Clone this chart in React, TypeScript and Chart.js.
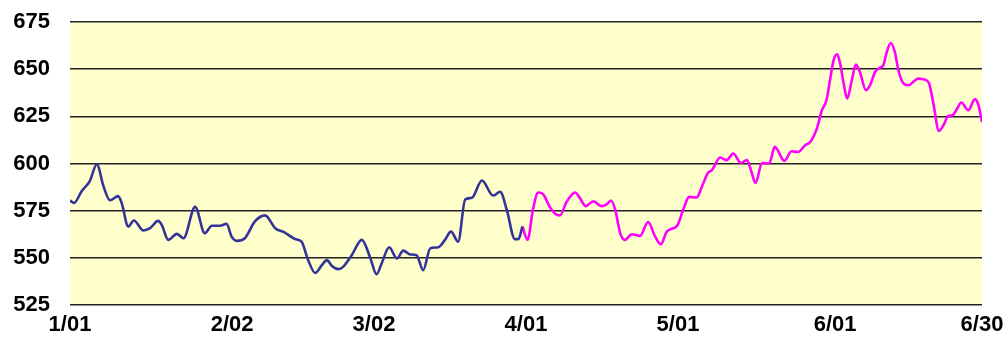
import { useEffect, useRef } from "react";
import { Chart, registerables } from "chart.js";

Chart.register(...registerables);

// Day-of-year offsets (0 = Jan 1) where the axis is labelled
const tickDays = [0, 32, 60, 90, 120, 151, 180];
const tickLabels = ["1/01", "2/02", "3/02", "4/01", "5/01", "6/01", "6/30"];

const yMin = 525;
const yMax = 675;
const yStep = 25;

// First period: Jan 1 – Apr 1
const firstDays = [
  0.0, 0.8, 2.3, 3.9, 5.3, 6.6, 7.9, 9.5, 10.2, 11.5, 12.6, 14.5, 15.8, 17.4, 18.1,
  19.4, 21.1, 22.4, 24.7, 26.6, 28.0, 29.6, 30.9, 31.9, 32.9, 34.5, 36.5, 38.5, 40.5,
  42.4, 44.4, 45.7, 47.0, 48.4, 49.7, 50.7, 51.7, 53.0, 53.9, 55.6, 57.6, 59.2, 60.5,
  61.5, 63.0, 64.5, 65.8, 67.1, 68.4, 69.7, 71.1, 72.7, 74.0, 75.2, 76.6, 78.0, 79.3,
  81.3, 83.5, 84.9, 86.2, 87.8, 88.5, 89.3,
];
const firstValues = [
  580.4, 579.1, 585.3, 590.7, 599.6, 588.0, 580.5, 582.7, 579.0, 566.6, 569.8, 564.5,
  565.7, 569.6, 567.5, 559.5, 562.7, 560.4, 577.0, 563.1, 567.0, 567.0, 568.0, 561.2,
  559.0, 560.4, 569.3, 572.5, 565.7, 563.4, 560.0, 558.6, 548.8, 542.0, 546.1, 548.8,
  545.7, 544.0, 545.2, 551.4, 559.5, 550.5, 541.3, 547.0, 555.6, 549.7, 553.8, 551.8,
  551.4, 543.4, 555.0, 555.6, 559.5, 563.9, 558.6, 580.9, 581.8, 591.0, 583.0, 585.0,
  575.5, 559.9, 559.9, 566.6,
];

// Second period: Apr 1 – Jun 30
const secondDays = [
  89.3, 90.3, 91.4, 92.4, 93.4, 94.7, 95.7, 96.7, 98.0, 99.7, 100.7, 101.8, 103.3,
  104.9, 105.9, 106.8, 107.6, 108.6, 109.5, 110.9, 112.5, 114.1, 115.5, 116.6, 117.8,
  119.9, 121.0, 122.2, 123.7, 124.7, 125.9, 126.7, 128.3, 129.6, 130.9, 132.4, 133.6,
  134.4, 135.3, 136.6, 138.0, 139.1, 141.0, 142.4, 143.7, 145.1, 146.1, 147.4, 148.4,
  149.3, 150.0, 150.7, 151.4, 152.0, 152.7, 153.4, 154.3, 155.1, 155.9, 157.1, 157.9,
  158.9, 159.9, 160.5, 161.3, 162.0, 162.8, 163.5, 164.5, 165.5, 166.4, 167.4, 168.4,
  169.5, 170.4, 171.5, 172.4, 173.3, 174.2, 175.1, 175.9, 177.3, 178.6, 179.3, 180.0,
];
const secondValues = [
  566.6, 559.5, 576.0, 584.6, 583.6, 577.0, 573.5, 572.5, 579.6, 584.6, 581.4, 577.4,
  580.0, 577.4, 578.3, 580.4, 575.5, 563.0, 559.5, 562.5, 561.6, 569.0, 561.2, 557.2,
  563.9, 567.3, 575.3, 582.3, 582.0, 587.6, 595.0, 596.5, 603.2, 601.8, 605.3, 600.3,
  601.8, 596.5, 589.7, 600.3, 600.0, 608.8, 601.4, 606.5, 606.1, 609.7, 611.4, 618.5,
  628.2, 633.5, 644.1, 654.7, 657.9, 653.0, 642.4, 634.4, 644.1, 652.4, 648.5, 638.8,
  641.5, 648.5, 650.8, 652.0, 660.0, 663.9, 659.1, 649.4, 642.4, 641.5, 643.2, 645.0,
  644.6, 642.9, 631.8, 617.3, 620.3, 625.1, 625.6, 629.1, 632.3, 628.2, 634.1, 630.9,
  622.0,
];

const FONT = '"Liberation Sans", Arial, sans-serif';

const plotFill = {
  id: "plotFill",
  beforeDraw(chart: any) {
    const { ctx, chartArea: a } = chart;
    ctx.save();
    ctx.fillStyle = "#FFFFCC";
    ctx.fillRect(a.left, a.top, a.right - a.left, a.bottom - a.top);
    ctx.restore();
  },
};

export default function App() {
  const canvasRef = useRef<HTMLCanvasElement | null>(null);

  useEffect(() => {
    if (!canvasRef.current) return;
    const toPoints = (xs: number[], ys: number[]) => xs.map((x, i) => ({ x, y: ys[i] }));
    const chart = new Chart(canvasRef.current, {
      type: "line",
      data: {
        datasets: [
          {
            data: toPoints(firstDays, firstValues),
            borderColor: "#333399",
            borderWidth: 2.6,
            pointRadius: 0,
            cubicInterpolationMode: "monotone",
            fill: false,
          },
          {
            data: toPoints(secondDays, secondValues),
            borderColor: "#FF00FF",
            borderWidth: 2.6,
            pointRadius: 0,
            cubicInterpolationMode: "monotone",
            fill: false,
          },
        ],
      },
      options: {
        animation: false,
        responsive: true,
        maintainAspectRatio: false,
        layout: { padding: { top: 22, right: 26, bottom: 0, left: 0 } },
        plugins: { legend: { display: false }, tooltip: { enabled: false } },
        scales: {
          x: {
            type: "linear",
            min: 0,
            max: 180,
            afterBuildTicks: (scale: any) => {
              scale.ticks = tickDays.map((v) => ({ value: v }));
            },
            afterFit: (scale: any) => {
              scale.height = 34;
              scale.paddingLeft = 0;
              scale.paddingRight = 0;
            },
            ticks: {
              autoSkip: false,
              maxRotation: 0,
              padding: 7,
              color: "#000",
              font: { family: FONT, size: 22, weight: "bold" },
              callback: (v: any) => {
                const i = tickDays.indexOf(Number(v));
                return i >= 0 ? tickLabels[i] : "";
              },
            },
            grid: { display: false, drawTicks: false },
            border: { display: false },
          },
          y: {
            min: yMin,
            max: yMax,
            afterFit: (scale: any) => {
              scale.width = 70;
              scale.paddingTop = 0;
              scale.paddingBottom = 0;
            },
            ticks: {
              stepSize: yStep,
              padding: 20,
              color: "#000",
              font: { family: FONT, size: 22, weight: "bold" },
            },
            grid: { color: "#222", lineWidth: 1.6, drawTicks: false },
            border: { display: false },
          },
        },
      },
      plugins: [plotFill],
    });
    return () => chart.destroy();
  }, []);

  return (
    <div style={{ position: "absolute", left: 0, top: 0, width: 1008, height: 339 }}>
      <canvas ref={canvasRef} />
    </div>
  );
}
